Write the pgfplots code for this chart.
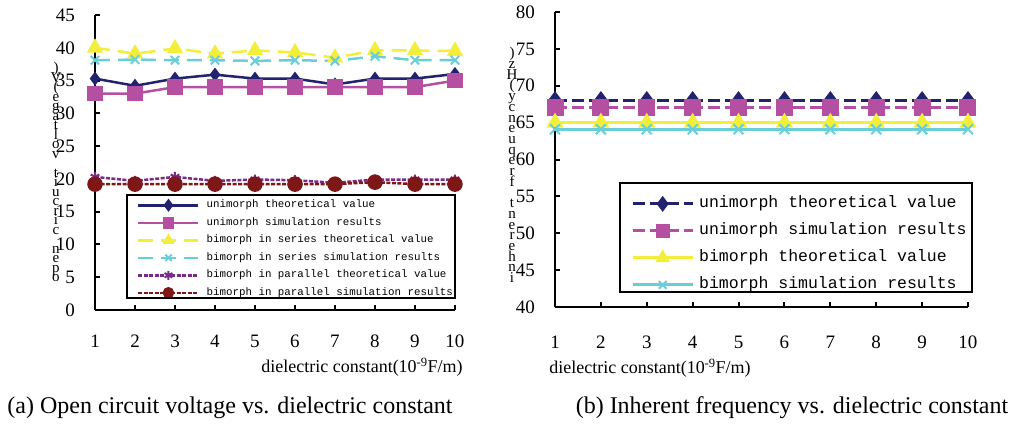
\documentclass[border=0pt]{standalone}
\usepackage{pgfplots}
\pgfplotsset{compat=1.18}
\usepackage{fontspec}
\setmainfont{Liberation Serif}
\newfontfamily\legfont{Liberation Mono}
\definecolor{cnavy}{HTML}{22226E}
\definecolor{cmag}{HTML}{B44FA2}
\definecolor{cyel}{HTML}{F2EE3A}
\definecolor{ccyan}{HTML}{6ACDDA}
\definecolor{cpurp}{HTML}{7A2A8A}
\definecolor{cdred}{HTML}{7E1818}
\newcommand\stackfontA{\fontsize{15}{9.5}\selectfont\lineskiplimit=-100pt\relax\lineskip=0pt\relax}
\newcommand\stackfontB{\fontsize{15}{10.7}\selectfont\lineskiplimit=-100pt\relax\lineskip=0pt\relax}

\pgfplotsset{
  panel/.style={
    scale only axis,
    clip=false,
    axis x line*=bottom, axis y line*=left,
    axis line style={-, line width=2.5pt, black},
    tick align=inside,
    major tick length=5pt,
    tick style={line width=2pt, black},
    /pgf/number format/assume math mode=true,
    ticklabel style={font=\fontsize{19}{22}\selectfont},
    yticklabel style={anchor=east, inner sep=0pt, xshift=-20pt},
    xticklabel style={anchor=north, inner sep=0pt, yshift=-25pt},
    xtick={1,...,10},
    xmin=1, xmax=10,
    legend cell align=left,
  },
}

\begin{document}
\begin{tikzpicture}
\useasboundingbox (0pt,0pt) rectangle (1013pt,426pt);

% ---------------- Panel (a)
\begin{axis}[panel,
  at={(95pt,116pt)}, anchor=south west,
  width=360pt, height=295pt,
  ymin=0, ymax=45, ytick={0,5,...,45},
  legend image code/.code={\draw[mark repeat=2,mark phase=2,#1,mark size=4.5pt] plot coordinates {(0pt,0pt) (30pt,0pt) (60pt,0pt)};},
  legend style={draw=none, fill=none, inner sep=0pt,
    at={(axis description cs:0.1167,0.376)}, anchor=north west,
    row sep=5.5pt, column sep=6pt,
    font=\fontsize{10.8}{12}\legfont,
    nodes={inner sep=1pt, text height=7.5pt, text depth=2.5pt}},
]
\addplot[cnavy, line width=2.5pt, mark=diamond*, mark size=5pt, mark options={solid}]
 coordinates {(1,35.3) (2,34.2) (3,35.3) (4,35.9) (5,35.3) (6,35.3) (7,34.4) (8,35.3) (9,35.3) (10,36.0)};
\addlegendentry{unimorph theoretical value}
\addplot[cmag, line width=2.5pt, mark=square*, mark size=6.5pt, mark options={solid}]
 coordinates {(1,33.0) (2,33.0) (3,34.0) (4,34.0) (5,34.0) (6,34.0) (7,34.0) (8,34.0) (9,34.0) (10,35.0)};
\addlegendentry{unimorph simulation results}
\addplot[cyel, line width=2.5pt, dash pattern=on 15pt off 8pt, mark=triangle*, mark size=7pt, mark options={solid}]
 coordinates {(1,40.0) (2,39.1) (3,39.9) (4,39.1) (5,39.6) (6,39.3) (7,38.5) (8,39.6) (9,39.6) (10,39.5)};
\addlegendentry{bimorph in series theoretical value}
\addplot[ccyan, line width=2.5pt, dash pattern=on 15pt off 8pt, mark=x, mark size=6pt, mark options={solid, line width=2pt}]
 coordinates {(1,38.1) (2,38.2) (3,38.1) (4,38.1) (5,38.0) (6,38.1) (7,38.0) (8,38.7) (9,38.1) (10,38.1)};
\addlegendentry{bimorph in series simulation results}
\addplot[cpurp, line width=2.5pt, dash pattern=on 4pt off 1.5pt, mark=asterisk, mark size=5pt, mark options={solid, line width=2pt}]
 coordinates {(1,20.3) (2,19.7) (3,20.3) (4,19.7) (5,19.9) (6,19.8) (7,19.4) (8,19.9) (9,19.9) (10,19.9)};
\addlegendentry{bimorph in parallel theoretical value}
\addplot[cdred, line width=2.5pt, dash pattern=on 4pt off 1.5pt, mark=*, mark size=6.5pt, mark options={solid}]
 coordinates {(1,19.2) (2,19.2) (3,19.2) (4,19.2) (5,19.2) (6,19.2) (7,19.2) (8,19.5) (9,19.2) (10,19.2)};
\addlegendentry{bimorph in parallel simulation results}
\end{axis}
\draw[line width=2.5pt, black] (127pt,231pt) rectangle (455pt,128pt);

% ---------------- Panel (b)
\begin{axis}[panel,
  at={(555pt,119pt)}, anchor=south west,
  width=413pt, height=295pt,
  ymin=40, ymax=80, ytick={40,45,...,80},
  xticklabel style={yshift=-4pt},
  legend image code/.code={\draw[mark repeat=2,mark phase=2,#1,mark size=5.5pt] plot coordinates {(0pt,0pt) (30pt,0pt) (60pt,0pt)};},
  legend style={draw=none, fill=none, inner sep=0pt,
    at={(axis description cs:0.184,0.379)}, anchor=north west,
    row sep=10pt, column sep=4pt,
    font=\fontsize{16.5}{18}\legfont,
    nodes={inner sep=1pt, text height=11pt, text depth=4pt}},
]
\addplot[cnavy, line width=3pt, dash pattern=on 12pt off 5pt, mark=diamond*, mark size=7pt, mark options={solid}]
 coordinates {(1,68) (2,68) (3,68) (4,68) (5,68) (6,68) (7,68) (8,68) (9,68) (10,68)};
\addlegendentry{unimorph theoretical value}
\addplot[cmag, line width=3pt, dash pattern=on 12pt off 5pt, mark=square*, mark size=7pt, mark options={solid}]
 coordinates {(1,67.1) (2,67.1) (3,67.1) (4,67.1) (5,67.1) (6,67.1) (7,67.1) (8,67.1) (9,67.1) (10,67.1)};
\addlegendentry{unimorph simulation results}
\addplot[cyel, line width=3pt, mark=triangle*, mark size=7pt, mark options={solid}]
 coordinates {(1,65) (2,65) (3,65) (4,65) (5,65) (6,65) (7,65) (8,65) (9,65) (10,65)};
\addlegendentry{bimorph theoretical value}
\addplot[ccyan, line width=3pt, mark=x, mark size=7pt, mark options={solid, line width=2pt}]
 coordinates {(1,64.1) (2,64.1) (3,64.1) (4,64.1) (5,64.1) (6,64.1) (7,64.1) (8,64.1) (9,64.1) (10,64.1)};
\addlegendentry{bimorph simulation results}
\end{axis}
\draw[line width=2.5pt, black] (620pt,243pt) rectangle (972pt,134pt);

% ---------------- stacked y labels
\node[align=center, inner sep=0pt, font=\stackfontA] at (56pt,254pt)
 {)\\V\\(\\e\\g\\a\\t\\l\\o\\v\\~\\t\\i\\u\\c\\r\\i\\c\\~\\n\\e\\p\\o};
\node[align=center, inner sep=0pt, font=\stackfontB] at (512pt,261pt)
 {)\\z\\H\\(\\y\\c\\n\\e\\u\\q\\e\\r\\f\\~\\t\\n\\e\\r\\e\\h\\n\\i};

% ---------------- x labels
\node[font=\fontsize{18}{20}\selectfont, inner sep=0pt] at (362pt,59pt) {dielectric constant(10\textsuperscript{-9}F/m)};
\node[font=\fontsize{18}{20}\selectfont, inner sep=0pt] at (650pt,58pt) {dielectric constant(10\textsuperscript{-9}F/m)};

% ---------------- captions
\node[font=\fontsize{24}{26}\selectfont, inner sep=0pt] at (230pt,18pt) {(a) Open circuit voltage vs. dielectric constant};
\node[font=\fontsize{24}{26}\selectfont, inner sep=0pt] at (792pt,18pt) {(b) Inherent frequency vs. dielectric constant};
\end{tikzpicture}
\end{document}
